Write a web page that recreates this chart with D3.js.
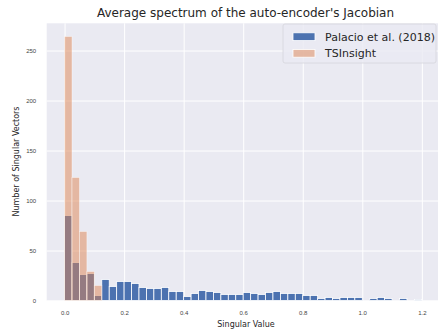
<!DOCTYPE html>
<html lang="en">
  <head>
    <meta charset="UTF-8" />
    <title>Average spectrum of the auto-encoder's Jacobian</title>
    <script src="https://d3js.org/d3.v7.min.js"></script>
    <style>
      body { margin: 0; background: #fff; }
      svg { display: block; font-family: "DejaVu Sans", sans-serif; }
      .grid line { stroke: #fff; stroke-width: 1; }
      .grid .domain { display: none; }
      .grid text { fill: #444; font-size: 6px; }
    </style>
  </head>
  <body>
    <svg id="chart" width="438" height="332"></svg>

    <script>
      // histogram bins (same edges for both series)
      const binStart = 0;
      const binWidth = 0.025;
      const palacioCounts = [
        85, 38, 26, 27, 5, 21, 14, 19, 19, 17, 13, 12, 12, 13, 9, 9,
        4, 7, 10, 9, 8, 6, 6, 6, 8, 7, 6, 8, 9, 7, 7, 7,
        5, 5, 2, 3, 2, 3, 3, 3, 0, 2, 3, 2, 0, 2, 0, 1
      ];
      const tsinsightCounts = [264, 123, 69, 29, 15];
      const xTicks = [0.0, 0.2, 0.4, 0.6, 0.8, 1.0, 1.2];
      const yTicks = [0, 50, 100, 150, 200, 250];
      const seriesNames = ["Palacio et al. (2018)", "TSInsight"];

      const margin = { top: 23.3, left: 46.7 };
      const width = 393,
        height = 277.2;

      const svg = d3
        .select("#chart")
        .append("g")
        .attr("transform", `translate(${margin.left},${margin.top})`);

      const x = d3.scaleLinear().domain([-0.06, 1.26]).range([0, width]);
      const y = d3.scaleLinear().domain([0, 277.2]).range([height, 0]);

      svg
        .append("rect")
        .attr("width", width)
        .attr("height", height)
        .attr("fill", "#EAEAF2");

      // gridlines + tick labels
      svg
        .append("g")
        .attr("class", "grid")
        .attr("transform", `translate(0,${height})`)
        .call(
          d3.axisBottom(x).tickValues(xTicks).tickSize(-height).tickPadding(10)
            .tickFormat(d3.format(".1f"))
        );

      svg
        .append("g")
        .attr("class", "grid")
        .call(
          d3.axisLeft(y).tickValues(yTicks).tickSize(-width).tickPadding(10.5)
        );

      const toBins = (counts) =>
        counts.map((c, i) => ({
          x0: binStart + i * binWidth,
          x1: binStart + (i + 1) * binWidth,
          count: c,
        }));

      // Palacio bars
      svg
        .selectAll(".bar-p")
        .data(toBins(palacioCounts).filter((d) => d.count > 0))
        .enter()
        .append("rect")
        .attr("class", "bar-p")
        .attr("x", (d) => x(d.x0))
        .attr("y", (d) => y(d.count))
        .attr("width", (d) => x(d.x1) - x(d.x0))
        .attr("height", (d) => y(0) - y(d.count))
        .attr("fill", "#4C72B0")
        .attr("stroke", "#fff")
        .attr("stroke-width", 0.8);

      // TSInsight bars (semi-transparent)
      svg
        .selectAll(".bar-t")
        .data(toBins(tsinsightCounts))
        .enter()
        .append("rect")
        .attr("class", "bar-t")
        .attr("x", (d) => x(d.x0))
        .attr("y", (d) => y(d.count))
        .attr("width", (d) => x(d.x1) - x(d.x0))
        .attr("height", (d) => y(0) - y(d.count))
        .attr("fill", "#DD8452")
        .attr("fill-opacity", 0.5)
        .attr("stroke", "#fff")
        .attr("stroke-opacity", 0.5)
        .attr("stroke-width", 0.8);

      // legend
      const legend = svg
        .append("g")
        .attr("transform", `translate(${283 - margin.left},${24 - margin.top})`);
      legend
        .append("rect")
        .attr("width", 153)
        .attr("height", 39)
        .attr("rx", 2)
        .attr("fill", "#EAEAF2")
        .attr("fill-opacity", 0.8)
        .attr("stroke", "#d5d5dc")
        .attr("stroke-width", 0.8);

      const legendColors = [
        { fill: "#4C72B0", op: 1 },
        { fill: "#DD8452", op: 0.5 },
      ];
      seriesNames.forEach((name, i) => {
        const cy = 12.7 + i * 16.6;
        legend
          .append("rect")
          .attr("x", 10)
          .attr("y", cy - 3.9)
          .attr("width", 22)
          .attr("height", 7.8)
          .attr("fill", legendColors[i].fill)
          .attr("fill-opacity", legendColors[i].op)
          .attr("stroke", "#fff")
          .attr("stroke-width", 0.8);
        legend
          .append("text")
          .attr("x", 42)
          .attr("y", cy + 4)
          .attr("font-size", 11)
          .attr("fill", "#262626")
          .text(name);
      });

      // title and axis labels
      d3.select("#chart")
        .append("text")
        .attr("x", 245.5)
        .attr("y", 16.8)
        .attr("text-anchor", "middle")
        .attr("font-size", 12)
        .attr("fill", "#262626")
        .text("Average spectrum of the auto-encoder's Jacobian");

      d3.select("#chart")
        .append("text")
        .attr("x", 246)
        .attr("y", 327)
        .attr("text-anchor", "middle")
        .attr("font-size", 8)
        .attr("fill", "#262626")
        .text("Singular Value");

      d3.select("#chart")
        .append("text")
        .attr("transform", "translate(18.8,161.5) rotate(-90)")
        .attr("text-anchor", "middle")
        .attr("font-size", 8)
        .attr("fill", "#262626")
        .text("Number of Singular Vectors");
    </script>
  </body>
</html>
